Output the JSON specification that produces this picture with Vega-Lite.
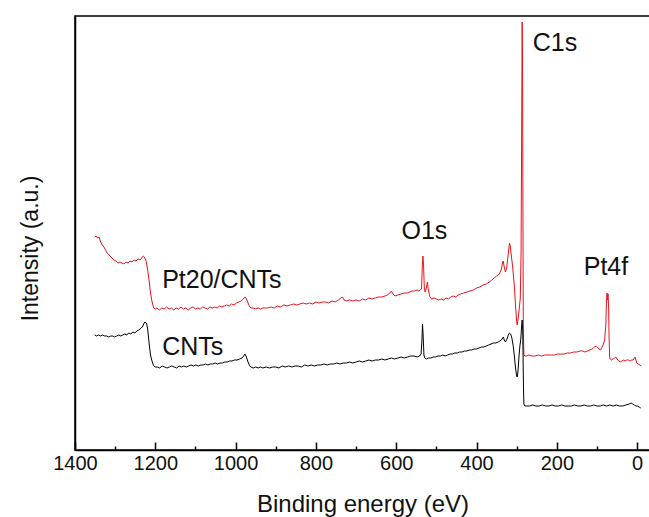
{
  "$schema": "https://vega.github.io/schema/vega-lite/v6.json",
  "width": 575,
  "height": 434,
  "autosize": "none",
  "padding": {"left": 75, "top": 16, "right": 0, "bottom": 67},
  "background": "white",
  "config": {"view": {"stroke": "#000", "strokeWidth": 1.5}, "font": "Liberation Sans"},
  "datasets": {
    "pt": [
      {"e":1351,"i":213},{"e":1347,"i":214},{"e":1344,"i":212},{"e":1340,"i":213},{"e":1336,"i":208},{"e":1332,"i":205},{"e":1328,"i":203},{"e":1324,"i":200},{"e":1320,"i":197},{"e":1317,"i":196},{"e":1313,"i":194},{"e":1308,"i":192},{"e":1303,"i":190},{"e":1298,"i":189},{"e":1293,"i":187},{"e":1288,"i":188},{"e":1283,"i":187},{"e":1278,"i":186},{"e":1273,"i":188},{"e":1268,"i":187},{"e":1263,"i":189},{"e":1258,"i":188},{"e":1253,"i":190},{"e":1248,"i":189},{"e":1243,"i":191},{"e":1238,"i":190},{"e":1234,"i":192},{"e":1230,"i":194},{"e":1227,"i":193},{"e":1223,"i":189},{"e":1219,"i":180},{"e":1215,"i":168},{"e":1212,"i":157},{"e":1208,"i":148},{"e":1204,"i":142},{"e":1200,"i":141},
      {"e":1196,"i":142},{"e":1190,"i":140},{"e":1184,"i":142},{"e":1178,"i":141},{"e":1172,"i":143},{"e":1166,"i":141},{"e":1160,"i":142},{"e":1154,"i":140},{"e":1148,"i":142},{"e":1142,"i":141},{"e":1136,"i":143},{"e":1130,"i":141},{"e":1124,"i":142},{"e":1118,"i":140},{"e":1112,"i":142},{"e":1106,"i":143},{"e":1100,"i":141},{"e":1094,"i":142},{"e":1088,"i":141},{"e":1082,"i":143},{"e":1076,"i":142},{"e":1070,"i":141},{"e":1064,"i":143},{"e":1058,"i":142},{"e":1052,"i":143},{"e":1046,"i":142},{"e":1040,"i":144},{"e":1034,"i":143},{"e":1028,"i":144},{"e":1022,"i":145},{"e":1016,"i":144},{"e":1010,"i":146},{"e":1004,"i":145},{"e":998,"i":147},{"e":992,"i":148},{"e":986,"i":149},{"e":981,"i":151},{"e":977,"i":153},{"e":974,"i":152},{"e":970,"i":148},{"e":966,"i":144},{"e":962,"i":142},{"e":956,"i":142},{"e":950,"i":141},{"e":944,"i":142},{"e":938,"i":141},{"e":932,"i":142},{"e":926,"i":142},{"e":920,"i":142},{"e":912,"i":143},{"e":904,"i":142},{"e":896,"i":144},{"e":888,"i":143},{"e":880,"i":145},{"e":872,"i":144},{"e":864,"i":145},{"e":856,"i":146},{"e":848,"i":145},{"e":840,"i":146},{"e":832,"i":147},{"e":824,"i":146},{"e":816,"i":147},{"e":808,"i":146},{"e":800,"i":148},{"e":792,"i":147},{"e":784,"i":148},{"e":776,"i":148},{"e":768,"i":147},{"e":760,"i":149},{"e":752,"i":148},{"e":744,"i":150},{"e":738,"i":152},{"e":734,"i":153},{"e":730,"i":150},{"e":724,"i":149},{"e":716,"i":150},{"e":708,"i":149},{"e":700,"i":150},{"e":692,"i":149},{"e":684,"i":151},{"e":676,"i":150},{"e":668,"i":152},{"e":660,"i":151},{"e":652,"i":152},{"e":644,"i":153},{"e":636,"i":153},{"e":628,"i":154},{"e":622,"i":155},{"e":616,"i":157},{"e":612,"i":159},{"e":608,"i":156},{"e":603,"i":154},{"e":596,"i":155},{"e":588,"i":156},{"e":580,"i":157},{"e":572,"i":157},{"e":566,"i":158},{"e":560,"i":159},{"e":554,"i":159},{"e":548,"i":160},{"e":544,"i":159},{"e":540,"i":160},{"e":537,"i":161},{"e":535,"i":185},{"e":533.5,"i":194},{"e":532,"i":185},{"e":530,"i":162},{"e":528,"i":158},{"e":525,"i":162},{"e":522.5,"i":168},{"e":520,"i":160},{"e":516,"i":153},{"e":512,"i":151},{"e":506,"i":152},{"e":500,"i":151},{"e":494,"i":150},{"e":488,"i":151},{"e":482,"i":150},{"e":476,"i":152},{"e":470,"i":151},{"e":464,"i":153},{"e":458,"i":154},{"e":452,"i":153},{"e":446,"i":155},{"e":440,"i":156},{"e":432,"i":157},{"e":424,"i":158},{"e":416,"i":159},{"e":408,"i":160},{"e":400,"i":162},{"e":392,"i":163},{"e":384,"i":165},{"e":376,"i":166},{"e":368,"i":168},{"e":362,"i":170},{"e":356,"i":172},{"e":350,"i":174},{"e":346,"i":175},{"e":342,"i":177},{"e":338,"i":181},{"e":335,"i":188},{"e":333.5,"i":189},{"e":331,"i":183},{"e":328,"i":178},{"e":325,"i":182},{"e":321,"i":196},{"e":318,"i":207},{"e":316,"i":204},{"e":313,"i":193},{"e":310,"i":183},{"e":306,"i":165},{"e":303,"i":145},{"e":300,"i":128},{"e":298.5,"i":125},{"e":297,"i":130},{"e":294,"i":140},{"e":291,"i":152},{"e":289,"i":200},{"e":287.5,"i":330},{"e":286.5,"i":428},{"e":285.5,"i":400},{"e":284.5,"i":250},{"e":283.5,"i":120},{"e":282,"i":95},{"e":279,"i":94},{"e":276,"i":94},{"e":270,"i":95},{"e":262,"i":94},{"e":254,"i":94},{"e":246,"i":95},{"e":238,"i":94},{"e":230,"i":95},{"e":222,"i":95},{"e":214,"i":95},{"e":206,"i":95},{"e":198,"i":96},{"e":190,"i":96},{"e":182,"i":96},{"e":174,"i":97},{"e":166,"i":97},{"e":158,"i":98},{"e":150,"i":98},{"e":142,"i":99},{"e":136,"i":99},{"e":130,"i":98},{"e":124,"i":99},{"e":118,"i":100},{"e":112,"i":101},{"e":106,"i":103},{"e":102,"i":104},{"e":99,"i":103},{"e":95,"i":101},{"e":91,"i":100},{"e":87,"i":103},{"e":84,"i":106},{"e":81,"i":110},{"e":78,"i":125},{"e":76.5,"i":148},{"e":75,"i":157},{"e":73.5,"i":150},{"e":72.5,"i":156},{"e":71,"i":142},{"e":70,"i":115},{"e":68.5,"i":93},{"e":67,"i":91},{"e":64,"i":90},{"e":60,"i":91},{"e":56,"i":92},{"e":53,"i":93},{"e":50,"i":91},{"e":46,"i":89},{"e":42,"i":88},{"e":38,"i":89},{"e":34,"i":90},{"e":30,"i":89},{"e":26,"i":90},{"e":22,"i":90},{"e":18,"i":89},{"e":14,"i":90},{"e":10,"i":90},{"e":7,"i":92},{"e":5,"i":93},{"e":3,"i":90},{"e":1,"i":87},{"e":-3,"i":86},{"e":-7,"i":85},{"e":-11,"i":84}
    ],
    "cnt": [
      {"e":1351,"i":115},{"e":1346,"i":114},{"e":1341,"i":115},{"e":1336,"i":114},{"e":1331,"i":115},{"e":1326,"i":114},{"e":1321,"i":114},{"e":1316,"i":113},{"e":1311,"i":114},{"e":1306,"i":114},{"e":1301,"i":113},{"e":1296,"i":114},{"e":1291,"i":115},{"e":1286,"i":114},{"e":1281,"i":115},{"e":1276,"i":116},{"e":1271,"i":115},{"e":1266,"i":117},{"e":1261,"i":116},{"e":1256,"i":118},{"e":1251,"i":117},{"e":1246,"i":119},{"e":1241,"i":120},{"e":1236,"i":122},{"e":1232,"i":123},{"e":1229,"i":126},{"e":1226,"i":128},{"e":1222,"i":127},{"e":1219,"i":121},{"e":1215,"i":105},{"e":1212,"i":95},{"e":1209,"i":90},{"e":1205,"i":85},{"e":1201,"i":83},{"e":1195,"i":83},{"e":1189,"i":82},{"e":1183,"i":84},{"e":1177,"i":83},{"e":1171,"i":82},{"e":1165,"i":83},{"e":1159,"i":84},{"e":1153,"i":83},{"e":1147,"i":82},{"e":1141,"i":84},{"e":1135,"i":83},{"e":1129,"i":84},{"e":1123,"i":83},{"e":1117,"i":84},{"e":1111,"i":85},{"e":1105,"i":84},{"e":1099,"i":85},{"e":1093,"i":84},{"e":1087,"i":85},{"e":1081,"i":85},{"e":1075,"i":86},{"e":1069,"i":85},{"e":1063,"i":86},{"e":1057,"i":86},{"e":1051,"i":87},{"e":1045,"i":86},{"e":1039,"i":87},{"e":1033,"i":87},{"e":1027,"i":88},{"e":1021,"i":88},{"e":1015,"i":89},{"e":1009,"i":89},{"e":1003,"i":90},{"e":997,"i":90},{"e":990,"i":91},{"e":984,"i":92},{"e":980,"i":94},{"e":977,"i":96},{"e":974,"i":94},{"e":970,"i":89},{"e":966,"i":85},{"e":962,"i":83},{"e":956,"i":82},{"e":950,"i":83},{"e":944,"i":82},{"e":938,"i":83},{"e":932,"i":82},{"e":924,"i":83},{"e":916,"i":82},{"e":908,"i":83},{"e":900,"i":83},{"e":892,"i":82},{"e":884,"i":84},{"e":876,"i":83},{"e":868,"i":84},{"e":860,"i":83},{"e":852,"i":84},{"e":844,"i":84},{"e":836,"i":83},{"e":828,"i":85},{"e":820,"i":84},{"e":812,"i":85},{"e":804,"i":84},{"e":796,"i":85},{"e":788,"i":85},{"e":780,"i":86},{"e":772,"i":85},{"e":764,"i":86},{"e":756,"i":86},{"e":748,"i":87},{"e":740,"i":86},{"e":732,"i":87},{"e":724,"i":87},{"e":716,"i":88},{"e":708,"i":87},{"e":700,"i":88},{"e":692,"i":89},{"e":684,"i":88},{"e":676,"i":89},{"e":668,"i":90},{"e":660,"i":89},{"e":652,"i":90},{"e":644,"i":90},{"e":636,"i":91},{"e":628,"i":90},{"e":620,"i":91},{"e":612,"i":92},{"e":604,"i":91},{"e":596,"i":92},{"e":588,"i":93},{"e":580,"i":92},{"e":572,"i":93},{"e":564,"i":94},{"e":556,"i":94},{"e":548,"i":93},{"e":542,"i":94},{"e":538,"i":96},{"e":536,"i":110},{"e":534.5,"i":126},{"e":533,"i":115},{"e":531,"i":95},{"e":529,"i":92},{"e":525,"i":91},{"e":520,"i":92},{"e":514,"i":92},{"e":508,"i":93},{"e":502,"i":93},{"e":496,"i":94},{"e":490,"i":94},{"e":484,"i":95},{"e":478,"i":94},{"e":472,"i":95},{"e":466,"i":96},{"e":460,"i":96},{"e":454,"i":97},{"e":448,"i":97},{"e":442,"i":98},{"e":436,"i":98},{"e":430,"i":99},{"e":424,"i":99},{"e":418,"i":100},{"e":412,"i":100},{"e":406,"i":101},{"e":400,"i":101},{"e":394,"i":102},{"e":388,"i":103},{"e":382,"i":103},{"e":376,"i":104},{"e":370,"i":105},{"e":364,"i":106},{"e":358,"i":107},{"e":352,"i":107},{"e":346,"i":108},{"e":342,"i":109},{"e":338,"i":110},{"e":335,"i":112},{"e":333,"i":113},{"e":331,"i":110},{"e":328,"i":108},{"e":324,"i":111},{"e":321,"i":115},{"e":318,"i":117},{"e":315,"i":116},{"e":312,"i":112},{"e":309,"i":105},{"e":306,"i":95},{"e":303,"i":82},{"e":300,"i":74},{"e":298.5,"i":73},{"e":297,"i":78},{"e":294,"i":95},{"e":292,"i":104},{"e":290,"i":110},{"e":288,"i":122},{"e":286.5,"i":130},{"e":285,"i":120},{"e":284,"i":90},{"e":283,"i":60},{"e":282,"i":46},{"e":280,"i":44},{"e":276,"i":44},{"e":268,"i":44},{"e":260,"i":45},{"e":252,"i":44},{"e":244,"i":44},{"e":236,"i":45},{"e":228,"i":44},{"e":220,"i":44},{"e":212,"i":45},{"e":204,"i":44},{"e":196,"i":44},{"e":188,"i":45},{"e":180,"i":44},{"e":172,"i":44},{"e":164,"i":44},{"e":156,"i":45},{"e":148,"i":44},{"e":140,"i":44},{"e":132,"i":45},{"e":124,"i":44},{"e":116,"i":44},{"e":108,"i":45},{"e":100,"i":44},{"e":92,"i":44},{"e":84,"i":45},{"e":76,"i":44},{"e":68,"i":45},{"e":60,"i":44},{"e":52,"i":45},{"e":44,"i":44},{"e":36,"i":44},{"e":28,"i":45},{"e":20,"i":46},{"e":15,"i":47},{"e":11,"i":46},{"e":7,"i":45},{"e":3,"i":44},{"e":-1,"i":44},{"e":-5,"i":43},{"e":-9,"i":42}
    ],
    "labels": [
      {"t":"C1s","e":260,"i":399},
      {"t":"O1s","e":587,"i":211},
      {"t":"Pt4f","e":133,"i":175},
      {"t":"Pt20/CNTs","e":1183,"i":162},
      {"t":"CNTs","e":1183,"i":95}
    ]
  },
  "encoding": {
    "x": {
      "field": "e", "type": "quantitative",
      "scale": {"domain": [-32, 1400], "reverse": true, "nice": false, "zero": false},
      "axis": {
        "values": [0,100,200,300,400,500,600,700,800,900,1000,1100,1200,1300,1400],
        "format": "d",
        "labelExpr": "datum.value % 200 === 0 ? datum.label : ''",
        "tickSize": {"condition": {"test": "datum.value % 200 === 0", "value": -8}, "value": -4},
        "tickColor": "#000", "tickWidth": 1.5,
        "domainColor": "#000", "domainWidth": 1.5,
        "grid": false,
        "labelFontSize": 20, "labelColor": "#111", "labelPadding": 11, "labelFlush": false,
        "title": "Binding energy (eV)",
        "titleFontSize": 24, "titleFontWeight": "normal", "titleColor": "#111",
        "titleY": 61, "titleBaseline": "alphabetic"
      }
    },
    "y": {
      "field": "i", "type": "quantitative",
      "scale": {"domain": [0, 434], "nice": false, "zero": false},
      "axis": {
        "ticks": false, "labels": false, "grid": false,
        "domainColor": "#000", "domainWidth": 1.5,
        "title": "Intensity (a.u.)",
        "titleFontSize": 23, "titleFontWeight": "normal", "titleColor": "#111",
        "titleX": -45, "titleY": 232, "titleAngle": 270, "titleBaseline": "middle", "titleAlign": "center"
      }
    }
  },
  "layer": [
    {"data": {"name": "pt"}, "mark": {"type": "line", "color": "#e8141c", "strokeWidth": 1}},
    {"data": {"name": "cnt"}, "mark": {"type": "line", "color": "#000", "strokeWidth": 1}},
    {"data": {"name": "labels"}, "mark": {"type": "text", "align": "left", "baseline": "alphabetic", "fontSize": 25, "color": "#111"}, "encoding": {"text": {"field": "t"}}}
  ]
}
